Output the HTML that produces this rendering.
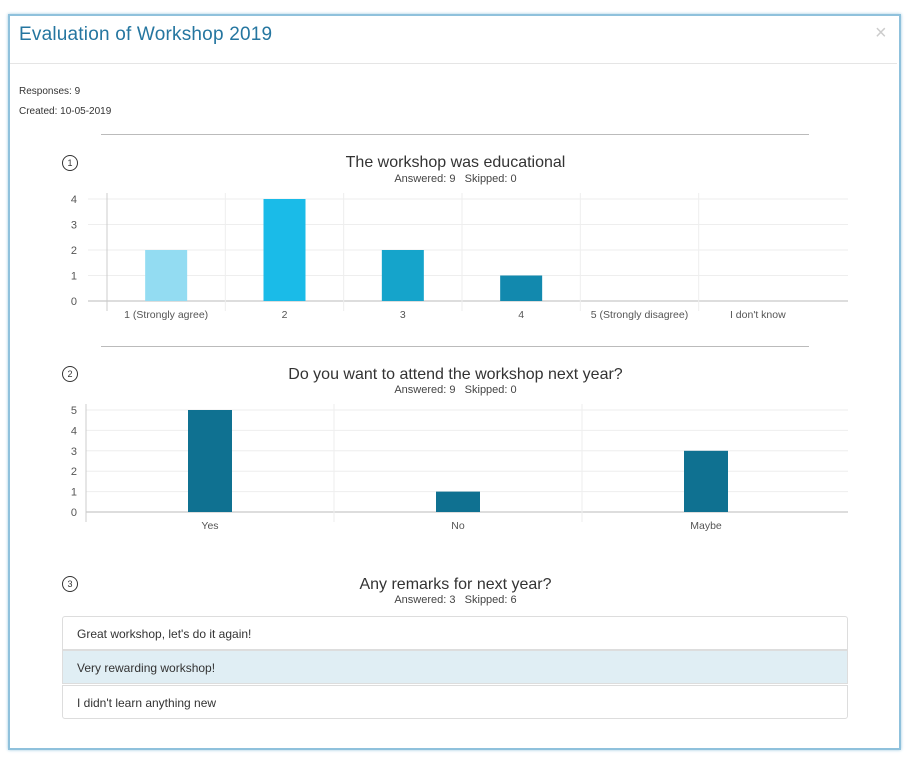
<!DOCTYPE html>
<html><head><meta charset="utf-8"><style>
body{margin:0;width:911px;height:767px;background:#fff;font-family:"Liberation Sans",sans-serif;position:relative;overflow:hidden}
.abs{position:absolute}
.modal{left:8px;top:14px;width:889px;height:732px;border:2px solid #8fc1dc;box-shadow:0 0 3px #9cc8e0}
.t{color:#333}
.circ{width:14px;height:14px;border:1.5px solid #333;border-radius:50%;font-size:9px;text-align:center;line-height:14px;color:#333}
.q{font-size:16px;color:#333;text-align:center;width:911px;left:0}
.sub{font-size:11px;color:#444;text-align:center;width:911px;left:0}
.item{left:62px;height:34px;border:1px solid #ddd;font-size:12px;color:#333;line-height:34px;padding-left:14px;box-sizing:border-box;width:786px}
</style></head><body>
<div class="abs modal"></div>
<div class="abs" style="left:19px;top:24px;font-size:19px;color:#2576a0;letter-spacing:0.2px">Evaluation of Workshop 2019</div>
<div class="abs" style="left:875px;top:22px;font-size:20px;color:#ccc">×</div>
<div class="abs" style="left:10px;top:63px;width:887px;height:1px;background:#e5e5e5"></div>
<div class="abs t" style="left:19px;top:86px;font-size:10px">Responses: 9</div>
<div class="abs t" style="left:19px;top:106px;font-size:10px">Created: 10-05-2019</div>
<div class="abs" style="left:101px;top:134px;width:708px;height:1px;background:#bbb"></div>
<div class="abs circ" style="left:62px;top:155px">1</div>
<div class="abs q" style="top:154px">The workshop was educational</div>
<div class="abs sub" style="top:173px">Answered: 9 &nbsp;&nbsp;Skipped: 0</div>
<div class="abs" style="left:101px;top:346px;width:708px;height:1px;background:#bbb"></div>
<div class="abs circ" style="left:62px;top:366px">2</div>
<div class="abs q" style="top:366px">Do you want to attend the workshop next year?</div>
<div class="abs sub" style="top:384px">Answered: 9 &nbsp;&nbsp;Skipped: 0</div>
<div class="abs circ" style="left:62px;top:576px">3</div>
<div class="abs q" style="top:576px">Any remarks for next year?</div>
<div class="abs sub" style="top:594px">Answered: 3 &nbsp;&nbsp;Skipped: 6</div>
<div class="abs item" style="top:616px;border-radius:3px 3px 0 0">Great workshop, let's do it again!</div>
<div class="abs item" style="top:650px;background:#e0eef4">Very rewarding workshop!</div>
<div class="abs item" style="top:685px;border-radius:0 0 3px 3px">I didn't learn anything new</div>
<svg class="abs" style="left:0;top:0" width="911" height="767" id="svg"></svg>
<script>
const cats1=["1 (Strongly agree)","2","3","4","5 (Strongly disagree)","I don't know"];
const vals1=[2,4,2,1,0,0];
const colors1=["#93dcf2","#1abbe8","#15a4cb","#1289ae","#0f7191","#0f7191"];
const ticks1=[0,1,2,3,4];
const cats2=["Yes","No","Maybe"];
const vals2=[5,1,3];
const ticks2=[0,1,2,3,4,5];
const svg=document.getElementById('svg');
const NS='http://www.w3.org/2000/svg';
function mk(t,a,p){const e=document.createElementNS(NS,t);for(const k in a)e.setAttribute(k,a[k]);(p||svg).appendChild(e);return e;}
function chart(cats,vals,ticks,colors,cfg,nm){
  const g=mk('g',{});
  
  
  const max=ticks[ticks.length-1];
  const y=v=>cfg.y0-(cfg.y0-cfg.yTop)*v/max;
  const bw=(cfg.x1-cfg.x0)/cats.length;
  const x=i=>cfg.x0+bw*i;
  ticks.forEach(t=>{
    mk('line',{x1:cfg.gl,x2:848,y1:y(t),y2:y(t),stroke:t===0?'#bbb':'#eee','stroke-width':1},g);
    const tx=mk('text',{x:cfg.lx,y:y(t)+4,'text-anchor':'end','font-size':11,fill:'#555','font-family':'Liberation Sans'},g);
    tx.textContent=t;
    
    
  });
  for(let i=0;i<cats.length;i++){
    mk('line',{x1:x(i),x2:x(i),y1:cfg.yTop-6,y2:cfg.y0+10,stroke:i===0?'#ccc':'#eee'},g);
  }
  cats.forEach((c,i)=>{
    const cx=x(i)+bw/2;
    const r=mk('rect',{x:cx-cfg.barW/2,y:y(vals[i]),width:cfg.barW,height:cfg.y0-y(vals[i]),fill:colors[i]},g);
    
    
    const tx=mk('text',{x:cx,y:cfg.y0+17,'text-anchor':'middle','font-size':10.5,fill:'#555','font-family':'Liberation Sans'},g);
    tx.textContent=c;
    
    
  });
}
chart(cats1,vals1,ticks1,colors1,{x0:107,x1:817,y0:301,yTop:199,gl:88,lx:77,barW:42},'chart-q1');
chart(cats2,vals2,ticks2,cats2.map(()=>"#0f7191"),{x0:86,x1:830,y0:512,yTop:410,gl:86,lx:77,barW:44},'chart-q2');
</script>
</body></html>
